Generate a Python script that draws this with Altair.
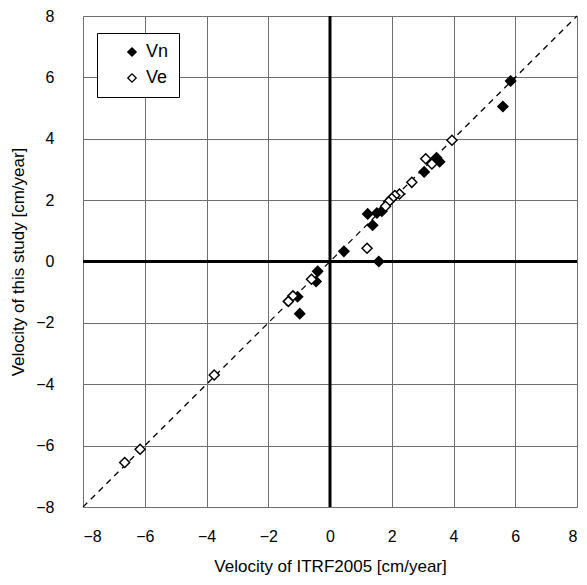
import altair as alt
import pandas as pd

# Vn (filled diamonds): ITRF2005 velocity vs this study
vn_x = [5.85, 5.6, 3.45, 3.55, 3.05, 1.22, 1.52, 1.68, 1.38, 1.58, 0.45, -0.4, -0.45, -1.05, -0.98]
vn_y = [5.88, 5.05, 3.38, 3.25, 2.92, 1.55, 1.58, 1.64, 1.18, 0.0, 0.33, -0.32, -0.65, -1.15, -1.7]
vn_ex = [0.12, 0.15, 0.12, 0.12, 0.1, 0.12, 0.12, 0.1, 0.1, 0.15, 0.1, 0.1, 0.1, 0.12, 0.1]
vn_ey = [0.12, 0.12, 0.12, 0.1, 0.1, 0.1, 0.1, 0.1, 0.12, 0.1, 0.1, 0.1, 0.1, 0.1, 0.1]

# Ve (open diamonds)
ve_x = [3.95, 3.1, 3.3, 2.65, 2.25, 2.1, 2.0, 1.9, 1.8, 1.2, -0.6, -1.2, -1.35, -3.75, -6.15, -6.65]
ve_y = [3.95, 3.35, 3.18, 2.58, 2.2, 2.15, 2.05, 1.95, 1.8, 0.43, -0.58, -1.12, -1.3, -3.7, -6.12, -6.55]
ve_ex = [0.15, 0.12, 0.12, 0.1, 0.2, 0.15, 0.15, 0.12, 0.12, 0.15, 0.12, 0.12, 0.12, 0.15, 0.15, 0.15]
ve_ey = [0.12, 0.1, 0.1, 0.1, 0.1, 0.15, 0.12, 0.1, 0.1, 0.12, 0.1, 0.1, 0.1, 0.1, 0.1, 0.1]

ticks = [-8, -6, -4, -2, 0, 2, 4, 6, 8]
diag = [-8, 8]

rows = []
for s, xs, ys, exs, eys in [("Vn", vn_x, vn_y, vn_ex, vn_ey), ("Ve", ve_x, ve_y, ve_ex, ve_ey)]:
    for x, y, ex, ey in zip(xs, ys, exs, eys):
        rows.append(dict(series=s, x=x, y=y, xlo=x - ex, xhi=x + ex, ylo=y - ey, yhi=y + ey))
df = pd.DataFrame(rows)
diag_df = pd.DataFrame({"x": diag, "y": diag})
zero_df = pd.DataFrame({"v": [0]})

FONT = "Liberation Sans"
xs = alt.Scale(domain=[-8, 8], nice=False, zero=False)
ys = alt.Scale(domain=[-8, 8], nice=False, zero=False)

x_axis = alt.Axis(values=ticks, grid=True, gridColor="#6e6e6e", gridWidth=1, domain=False,
                  ticks=False, labelPadding=21, labelFontSize=16, labelFont=FONT,
                  labelColor="black", title="Velocity of ITRF2005 [cm/year]",
                  titleFontSize=17, titleFont=FONT, titleFontWeight="normal",
                  titleColor="black", titlePadding=14)
y_axis = alt.Axis(values=ticks, grid=True, gridColor="#6e6e6e", gridWidth=1, domain=False,
                  ticks=False, labelPadding=29, labelFontSize=16, labelFont=FONT,
                  labelColor="black", title="Velocity of this study [cm/year]",
                  titleFontSize=17, titleFont=FONT, titleFontWeight="normal",
                  titleColor="black", titlePadding=8)

base_grid = alt.Chart(diag_df).mark_line(strokeDash=[6, 5], color="black", strokeWidth=1.3).encode(
    x=alt.X("x:Q", scale=xs, axis=x_axis),
    y=alt.Y("y:Q", scale=ys, axis=y_axis),
)

vzero = alt.Chart(zero_df).mark_rule(color="black", strokeWidth=3).encode(x=alt.X("v:Q", scale=xs))
hzero = alt.Chart(zero_df).mark_rule(color="black", strokeWidth=3).encode(y=alt.Y("v:Q", scale=ys))

xerr = alt.Chart(df).mark_rule(color="black", strokeWidth=1.2).encode(
    x=alt.X("xlo:Q", scale=xs), x2="xhi:Q", y=alt.Y("y:Q", scale=ys))
yerr = alt.Chart(df).mark_rule(color="black", strokeWidth=1.2).encode(
    x=alt.X("x:Q", scale=xs), y=alt.Y("ylo:Q", scale=ys), y2="yhi:Q")

points = alt.Chart(df).mark_point(shape="diamond", filled=True, size=100, stroke="black",
                                  strokeWidth=1.5, opacity=1).encode(
    x=alt.X("x:Q", scale=xs),
    y=alt.Y("y:Q", scale=ys),
    fill=alt.Fill("series:N", scale=alt.Scale(domain=["Vn", "Ve"], range=["black", "white"]),
                  legend=alt.Legend(title=None, orient="none", legendX=14, legendY=17,
                                    strokeColor="black", fillColor="white", padding=10,
                                    symbolType="diamond", symbolSize=70,
                                    symbolStrokeColor="black", symbolStrokeWidth=1.3,
                                    symbolOffset=16, labelFontSize=18, labelFont=FONT,
                                    labelColor="black", rowPadding=8, labelOffset=5)),
)

chart = alt.layer(base_grid, vzero, hzero, xerr, yerr, points).properties(
    width=494, height=491,
    padding={"left": 75, "top": 8, "right": 2, "bottom": 70},
    autosize=alt.AutoSizeParams(type="none"),
).configure_view(stroke="black", strokeWidth=1.5).configure(background="white")

chart.save("out.html", embed_options={"renderer": "svg", "actions": False})
